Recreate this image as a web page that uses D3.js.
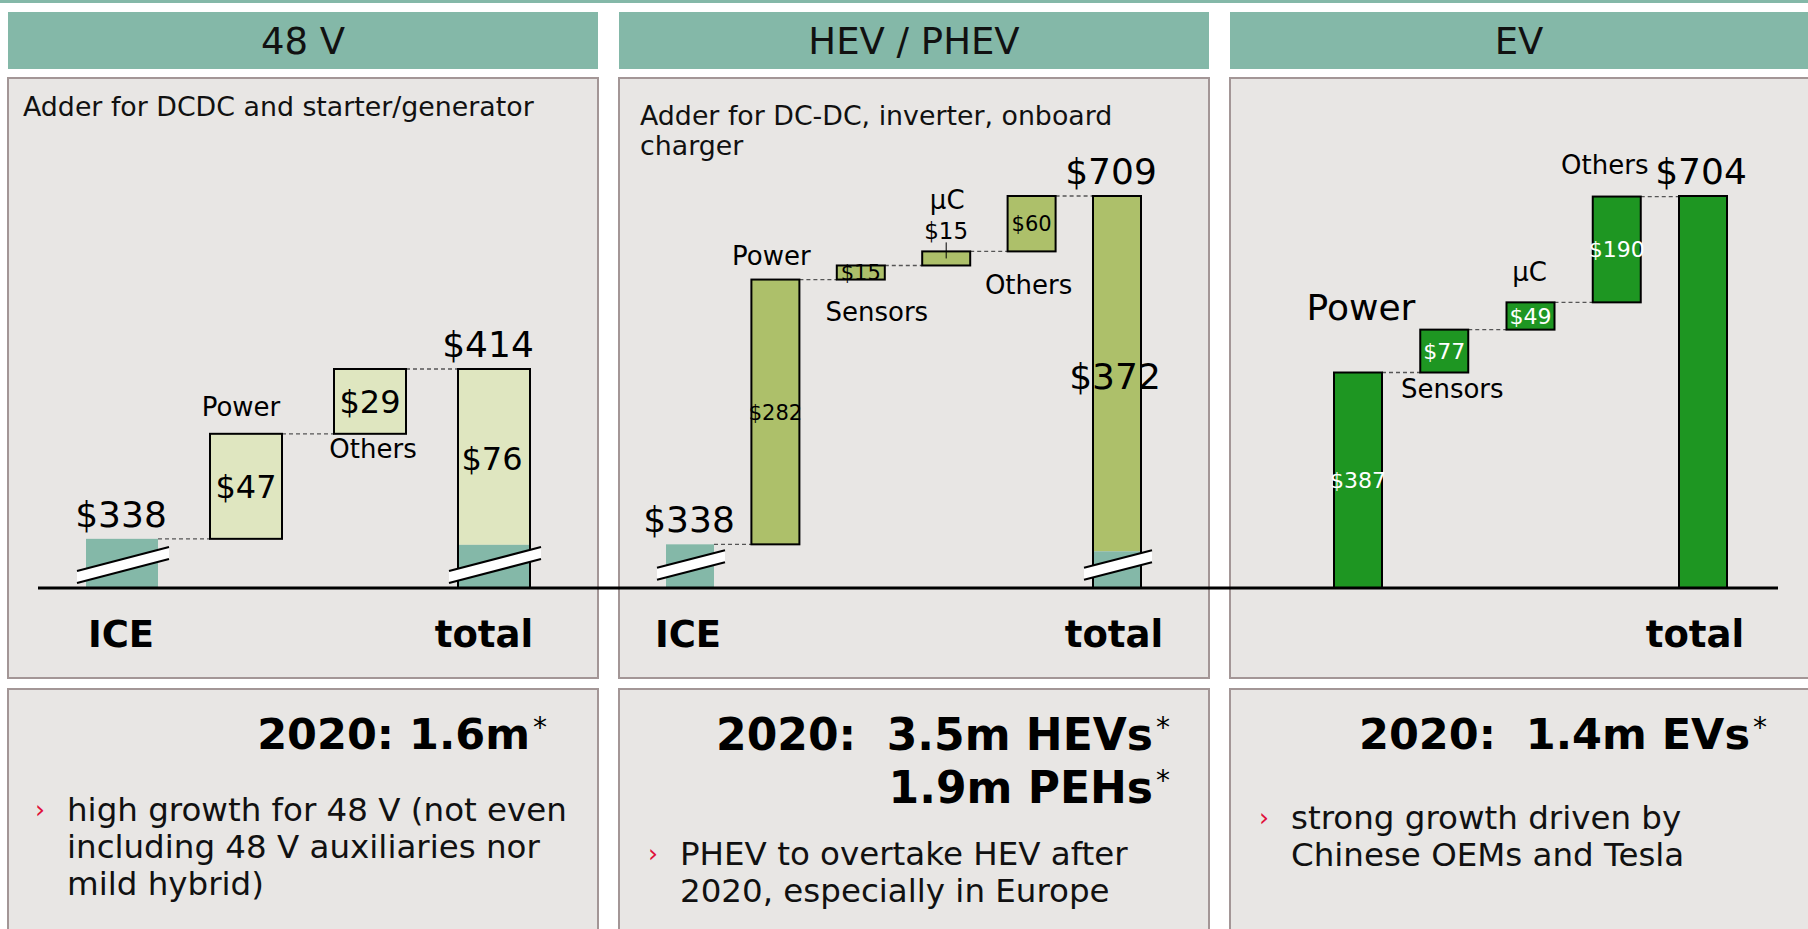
<!DOCTYPE html>
<html>
<head>
<meta charset="UTF-8">
<style>
body{margin:0;background:#fff;}
svg text{font-family:"DejaVu Sans", Verdana, sans-serif;}
</style>
</head>
<body>
<svg width="1808" height="929"></svg>
<script src="https://d3js.org/d3.v7.min.js"></script>
<script>
// column titles and notes
var titles = ["48 V", "HEV / PHEV", "EV"];
var notes = [["Adder for DCDC and starter/generator"], ["Adder for DC-DC, inverter, onboard", "charger"], []];

// waterfall steps (ICE base first, total last)
var cats48 = ["ICE", "Power", "Others", "total"];
var vals48 = [338, 47, 29, 414];
var catsHev = ["ICE", "Power", "Sensors", "μC", "Others", "total"];
var valsHev = [338, 282, 15, 15, 60, 709];
var catsEv = ["Power", "Sensors", "μC", "Others", "total"];
var valsEv = [387, 77, 49, 190, 704];
// adder printed inside the total bar
var adder48 = 76, adderHev = 372;

var headlines = [["2020: 1.6m"], ["2020:  3.5m HEVs", "1.9m PEHs"], ["2020:  1.4m EVs"]];
var bullets = [["high growth for 48 V (not even", "including 48 V auxiliaries nor", "mild hybrid)"],
  ["PHEV to overtake HEV after", "2020, especially in Europe"],
  ["strong growth driven by", "Chinese OEMs and Tesla"]];

var teal = "#84b8a8", panelFill = "#e8e6e4", panelLine = "#a39696";
var svg = d3.select("svg");
var baseY = 588;

svg.append("rect").attr("x", 0).attr("y", 0).attr("width", 1808).attr("height", 3).attr("fill", teal);

var cols = [{x0: 8, x1: 598}, {x0: 619, x1: 1209}, {x0: 1230, x1: 1820}];

cols.forEach(function(c, i) {
  svg.append("rect").attr("x", c.x0).attr("y", 12).attr("width", c.x1 - c.x0).attr("height", 57).attr("fill", teal);
  svg.append("text").attr("x", (c.x0 + Math.min(c.x1, 1808)) / 2).attr("y", 41).attr("dy", "0.36em")
    .attr("text-anchor", "middle").style("font-size", "37px").attr("fill", "#111").text(titles[i]);

  svg.append("rect").attr("x", c.x0).attr("y", 78).attr("width", c.x1 - c.x0).attr("height", 600)
    .attr("fill", panelFill).attr("stroke", panelLine).attr("stroke-width", 2);
  notes[i].forEach(function(t, j) {
    svg.append("text").attr("x", i == 0 ? 23 : c.x0 + 21).attr("y", (i == 0 ? 106 : 115) + j * 30).attr("dy", "0.36em")
      .style("font-size", "26.8px").attr("fill", "#111").text(t);
  });

  svg.append("rect").attr("x", c.x0).attr("y", 689).attr("width", c.x1 - c.x0).attr("height", 260)
    .attr("fill", panelFill).attr("stroke", panelLine).attr("stroke-width", 2);
});

// bottom boxes
var headRight = [530, 1153, 1750];
headlines.forEach(function(lines, i) {
  lines.forEach(function(t, j) {
    var yy = 734 + j * 53;
    svg.append("text").attr("x", headRight[i]).attr("y", yy).attr("dy", "0.36em").attr("text-anchor", "end")
      .style("font-size", i == 1 ? "44px" : "43px").style("font-weight", "bold").style("white-space", "pre").attr("fill", "#000").text(t);
    svg.append("text").attr("x", headRight[i] + 3).attr("y", yy + 3).style("font-size", "28px").attr("fill", "#000").text("*");
  });
});
var bulletPos = [{bx: 35, tx: 67, y: 809}, {bx: 648, tx: 680, y: 853}, {bx: 1259, tx: 1291, y: 817}];
bullets.forEach(function(lines, i) {
  var p = bulletPos[i];
  svg.append("text").attr("x", p.bx).attr("y", p.y).attr("dy", "0.36em").style("font-size", "25px").attr("fill", "#e0103a").text("›");
  lines.forEach(function(t, j) {
    svg.append("text").attr("x", p.tx).attr("y", p.y + j * 37).attr("dy", "0.36em")
      .style("font-size", "32.5px").attr("fill", "#111").text(t);
  });
});

// waterfall charts
var charts = [
  {cats: cats48, vals: vals48, adder: adder48, fill: "#dfe6c0", ink: "#000", broken: true,
   x: d3.scalePoint().domain(cats48).range([122, 494]), bw: 72,
   y: d3.scaleLinear().domain([316, 414]).range([baseY, 369]).clamp(true),
   valSize: 32, adderSize: 32, tealTop: 6,
   labs: {Power: {pos: "above", off: 27, dx: -5}, Others: {pos: "below", off: 15, dx: 3}},
   capDx: {ICE: -1, total: -10}},
  {cats: catsHev, vals: valsHev, adder: adderHev, fill: "#adc06a", ink: "#000", broken: true,
   x: d3.scalePoint().domain(catsHev).range([690, 1117]), bw: 48,
   y: d3.scaleLinear().domain([291.5, 709]).range([baseY, 196]).clamp(true),
   valSize: 21, adderSize: 36, tealTop: 7, valAbove: {"μC": 21},
   labs: {Power: {pos: "above", off: 24, dx: -4}, Sensors: {pos: "below", off: 32, dx: 16},
          "μC": {pos: "above", off: 52, dx: 1}, Others: {pos: "below", off: 33, dx: -3}},
   capDx: {ICE: -2, total: -3}},
  {cats: catsEv, vals: valsEv, fill: "#1e9622", ink: "#fff", broken: false,
   x: d3.scalePoint().domain(catsEv).range([1358, 1703]), bw: 48,
   y: d3.scaleLinear().domain([0, 704]).range([baseY, 196]).clamp(true),
   valSize: 22,
   labs: {Power: {pos: "above", off: 65, dx: 3, size: 36}, Sensors: {pos: "below", off: 16, dx: 8},
          "μC": {pos: "above", off: 31, dx: -1}, Others: {pos: "above", off: 32, dx: -12}},
   capDx: {total: -8}}
];

function breakMark(g, xl, xr) {
  var x0 = xl - 9, x1 = xr + 11, h = (x1 - x0) * 0.13, yc = baseY - 23;
  g.append("polygon")
    .attr("points", [[x0, yc + h - 6], [x1, yc - h - 6], [x1, yc - h + 6], [x0, yc + h + 6]].join(" "))
    .attr("fill", "#fff");
  [-6, 6].forEach(function(o) {
    g.append("line").attr("x1", x0).attr("y1", yc + h + o).attr("x2", x1).attr("y2", yc - h + o)
      .attr("stroke", "#000").attr("stroke-width", 2);
  });
}

function label(g, x, y, t, size, fill, weight) {
  return g.append("text").attr("x", x).attr("y", y).attr("dy", "0.36em").attr("text-anchor", "middle")
    .style("font-size", size + "px").style("font-weight", weight || "normal").attr("fill", fill || "#000").text(t);
}

charts.forEach(function(c) {
  var g = svg.append("g");
  var run = 0, steps = [];
  c.cats.forEach(function(k, i) {
    var v = c.vals[i], last = i == c.cats.length - 1;
    var s = {cat: k, v: v, lo: last ? 0 : run, hi: last ? v : run + v, first: i == 0, last: last};
    if (!last) run += v;
    steps.push(s);
  });

  // dashed connectors
  steps.slice(0, -1).forEach(function(s, i) {
    var yy = c.y(s.hi);
    g.append("line").attr("x1", c.x(s.cat) + c.bw / 2).attr("x2", c.x(steps[i + 1].cat) - c.bw / 2)
      .attr("y1", yy).attr("y2", yy).attr("stroke", "#555").attr("stroke-width", 1.3).attr("stroke-dasharray", "4,3");
  });

  steps.forEach(function(s) {
    var xl = c.x(s.cat) - c.bw / 2, cx = c.x(s.cat);
    var yTop = c.y(s.hi), yBot = c.y(s.lo);
    if (c.broken && s.first) {
      g.append("rect").attr("x", xl).attr("y", yTop).attr("width", c.bw).attr("height", yBot - yTop).attr("fill", teal);
      breakMark(g, xl, xl + c.bw);
      label(g, cx - 1, yTop - 25, "$" + s.v, 36);
    } else if (c.broken && s.last) {
      var yBase = c.y(c.vals[0]) + c.tealTop;
      g.append("rect").attr("x", xl).attr("y", yTop).attr("width", c.bw).attr("height", yBase - yTop).attr("fill", c.fill);
      g.append("rect").attr("x", xl).attr("y", yBase).attr("width", c.bw).attr("height", baseY - yBase).attr("fill", teal);
      g.append("rect").attr("x", xl).attr("y", yTop).attr("width", c.bw).attr("height", baseY - yTop)
        .attr("fill", "none").attr("stroke", "#000").attr("stroke-width", 2);
      breakMark(g, xl, xl + c.bw);
      label(g, cx - 6, yTop - 25, "$" + s.v, 36);
      label(g, cx - 2, (yTop + yBase) / 2 + 2, "$" + c.adder, c.adderSize);
    } else {
      g.append("rect").attr("x", xl).attr("y", yTop).attr("width", c.bw).attr("height", yBot - yTop)
        .attr("fill", c.fill).attr("stroke", "#000").attr("stroke-width", 2);
      if (s.last) {
        label(g, cx - 2, yTop - 25, "$" + s.v, 36);
      } else if (c.valAbove && c.valAbove[s.cat]) {
        var ly = yTop - c.valAbove[s.cat];
        label(g, cx, ly, "$" + s.v, c.valSize + 2);
        g.append("line").attr("x1", cx).attr("x2", cx).attr("y1", ly + 12).attr("y2", (yTop + yBot) / 2)
          .attr("stroke", "#000").attr("stroke-width", 1);
      } else {
        label(g, cx, (yTop + yBot) / 2, "$" + s.v, c.valSize, c.ink);
      }
    }
    var lb = c.labs[s.cat];
    if (lb) {
      var ly2 = lb.pos == "above" ? yTop - lb.off : yBot + lb.off;
      label(g, cx + lb.dx, ly2, s.cat, lb.size || 26);
    }
    if (c.capDx[s.cat] !== undefined) {
      label(g, cx + c.capDx[s.cat], 634, s.cat, 37, "#000", "bold");
    }
  });
});

// common base line
svg.append("line").attr("x1", 38).attr("x2", 1778).attr("y1", baseY).attr("y2", baseY)
  .attr("stroke", "#000").attr("stroke-width", 3);
</script>
</body>
</html>
